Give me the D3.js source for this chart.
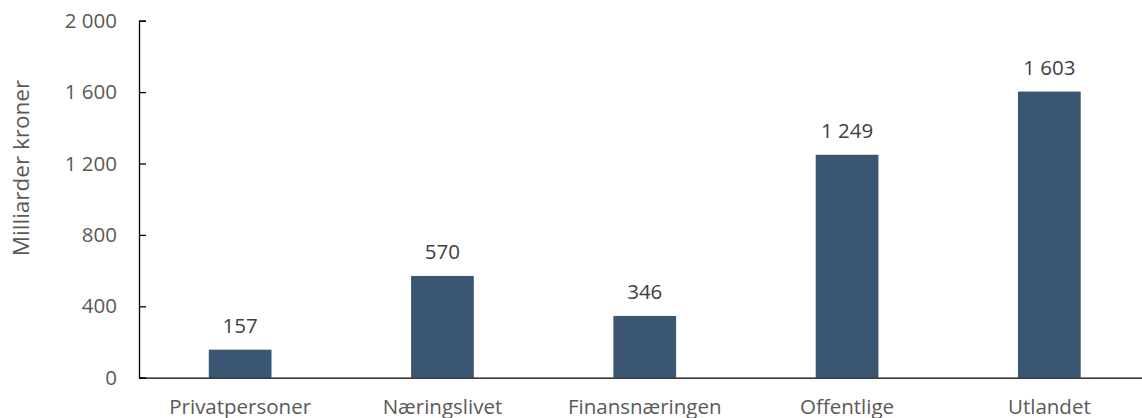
<!DOCTYPE html>
<html>
<head>
<meta charset="utf-8">
<script src="https://cdn.jsdelivr.net/npm/d3@7"></script>
<style>
  body { margin: 0; background: #fff; }
  svg { display: block; font-family: 'Open Sans', sans-serif; }
</style>
</head>
<body>
<div id="chart"></div>
<script>
const categories = ['Privatpersoner', 'Næringslivet', 'Finansnæringen', 'Offentlige', 'Utlandet'];
const values = [157, 570, 346, 1249, 1603];
const yTicks = [0, 400, 800, 1200, 1600, 2000];
const yTitle = 'Milliarder kroner';

const width = 1142, height = 418;
const margin = { top: 20.7, left: 139, bottom: 40.3 };
const plotRight = 1150.5;
const fontSize = 20.5;

const fmt = v => d3.format(',')(v).replace(/,/g, ' ');

const svg = d3.select('#chart').append('svg')
  .attr('width', width)
  .attr('height', height);

const x = d3.scaleBand()
  .domain(categories)
  .range([margin.left, plotRight])
  .paddingInner(0.69)
  .paddingOuter(0.345);

const y = d3.scaleLinear()
  .domain([0, 2000])
  .range([height - margin.bottom, margin.top]);

// bars
svg.append('g')
  .selectAll('rect')
  .data(values)
  .join('rect')
  .attr('x', (d, i) => x(categories[i]))
  .attr('width', x.bandwidth())
  .attr('y', d => y(d))
  .attr('height', d => y(0) - y(d))
  .attr('fill', '#3b5673');

// data labels
svg.append('g')
  .selectAll('text')
  .data(values)
  .join('text')
  .attr('x', (d, i) => x(categories[i]) + x.bandwidth() / 2)
  .attr('y', d => y(d) - 17)
  .attr('text-anchor', 'middle')
  .attr('font-size', fontSize)
  .attr('fill', '#404040')
  .text(d => fmt(d));

// y axis
const yAxis = svg.append('g')
  .attr('transform', `translate(${margin.left},0)`)
  .call(d3.axisLeft(y).tickValues(yTicks).tickSize(-7).tickPadding(22).tickFormat(fmt));
yAxis.select('.domain').attr('stroke', '#000').attr('stroke-width', 1.3);
yAxis.selectAll('.tick line').attr('stroke', '#000').attr('stroke-width', 1.3);
yAxis.selectAll('.tick text')
  .attr('font-size', fontSize)
  .attr('font-family', "'Open Sans', sans-serif")
  .attr('fill', '#595959');

// x axis
const xAxis = svg.append('g')
  .attr('transform', `translate(0,${y(0)})`)
  .call(d3.axisBottom(x).tickSize(0).tickPadding(22));
xAxis.select('.domain').attr('stroke', '#000').attr('stroke-width', 1.3);
xAxis.selectAll('.tick text')
  .attr('font-size', fontSize)
  .attr('font-family', "'Open Sans', sans-serif")
  .attr('fill', '#595959');

// y title
svg.append('text')
  .attr('transform', `translate(29,168) rotate(-90)`)
  .attr('text-anchor', 'middle')
  .attr('font-size', 22.5)
  .attr('fill', '#595959')
  .text(yTitle);
</script>
</body>
</html>
